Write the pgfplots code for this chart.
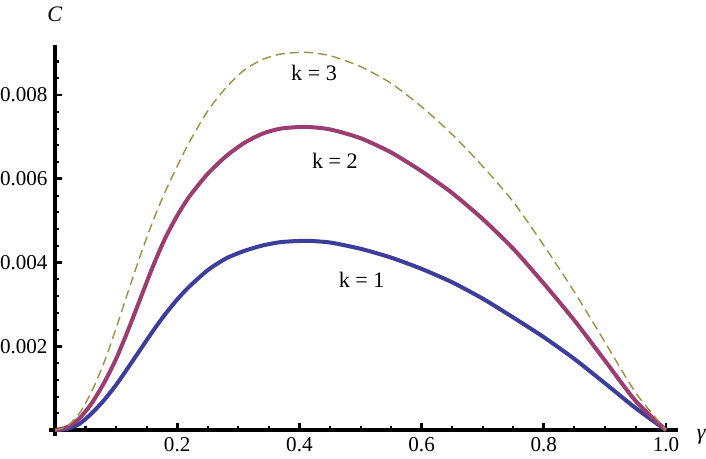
\documentclass[border=0pt]{standalone}
\usepackage{fontspec}
\setmainfont{Liberation Serif}
\usepackage{pgfplots}
\pgfplotsset{compat=1.18}
\definecolor{kone}{RGB}{61,61,155}
\definecolor{ktwo}{RGB}{155,61,112}
\definecolor{kthree}{RGB}{158,143,70}

\begin{document}
\begin{tikzpicture}
\begin{axis}[
    scale only axis, width=310pt, height=191.7pt,
    xmin=0, xmax=1.02, ymin=0, ymax=0.0092,
    axis lines=left,
    axis line style={line width=2pt, -, shorten <=-3pt},
    clip=false,
    tick align=inside,
    major tick length=3.5pt, minor tick length=2pt,
    major tick style={black, line width=1.4pt},
    minor tick style={black, line width=1pt},
    xtick={0.2,0.4,0.6,0.8,1.0},
    minor xtick={0.05,0.1,0.15,0.25,0.3,0.35,0.45,0.5,0.55,0.65,0.7,0.75,0.85,0.9,0.95},
    ytick={0.002,0.004,0.006,0.008},
    minor ytick={0.0004,0.0008,0.0012,0.0016,0.0024,0.0028,0.0032,0.0036,0.0044,0.0048,0.0052,0.0056,0.0064,0.0068,0.0072,0.0076,0.0084,0.0088},
    scaled y ticks=false,
    /pgf/number format/assume math mode=true,
    tick label style={font=\fontsize{10.5}{12}\selectfont},
    xticklabel style={/pgf/number format/.cd, fixed, fixed zerofill, precision=1},
    yticklabel style={inner xsep=0pt, xshift=-3.5pt, /pgf/number format/.cd, fixed, fixed zerofill, precision=3},
    xlabel={\textit{γ}}, ylabel={\textit{C}},
    every axis x label/.style={at={(rel axis cs:1,0)}, anchor=base west, inner sep=0pt, xshift=9pt, yshift=-4.5pt, font=\fontsize{11}{12}\selectfont},
    every axis y label/.style={at={(rel axis cs:0,1)}, anchor=south, yshift=8pt, font=\fontsize{11}{12}\selectfont},
]
% k = 1
\addplot[color=kone, line width=2pt, smooth, tension=0.4] coordinates {
(0,0) (0.02,0.00003) (0.04,0.00015) (0.06,0.00040) (0.08,0.00071) (0.10,0.00108)
(0.12,0.00150) (0.14,0.00193) (0.16,0.00236) (0.18,0.00276) (0.20,0.00312)
(0.22,0.00343) (0.25,0.00382) (0.28,0.00410) (0.31,0.00428) (0.34,0.00441)
(0.37,0.00449) (0.41,0.00452) (0.45,0.00448) (0.50,0.00433) (0.55,0.00412)
(0.60,0.00385) (0.65,0.00353) (0.70,0.00314) (0.75,0.00269) (0.80,0.00222)
(0.85,0.00170) (0.90,0.00112) (0.95,0.00053) (1.0,0)
};
% k = 2
\addplot[color=ktwo, line width=2pt, smooth, tension=0.4] coordinates {
(0,0) (0.02,0.00007) (0.04,0.00028) (0.06,0.00064) (0.08,0.00112) (0.10,0.00170)
(0.12,0.00240) (0.14,0.00315) (0.16,0.00390) (0.18,0.00457) (0.20,0.00512)
(0.22,0.00558) (0.25,0.00612) (0.28,0.00654) (0.31,0.00686) (0.34,0.00708)
(0.37,0.00720) (0.41,0.00724) (0.45,0.00718) (0.50,0.00697) (0.55,0.00663)
(0.60,0.00618) (0.65,0.00566) (0.70,0.00504) (0.75,0.00433) (0.80,0.00350)
(0.85,0.00262) (0.90,0.00166) (0.95,0.00070) (1.0,0)
};
% k = 3
\addplot[color=kthree, line width=0.7pt, dash pattern=on 4.5pt off 2.5pt, smooth, tension=0.4] coordinates {
(0,0) (0.02,0.00009) (0.04,0.00040) (0.06,0.00092) (0.08,0.00160) (0.10,0.00243)
(0.12,0.00332) (0.14,0.00418) (0.16,0.00498) (0.18,0.00568) (0.20,0.00630)
(0.22,0.00688) (0.25,0.00762) (0.28,0.00818) (0.31,0.00860) (0.34,0.00885)
(0.37,0.00898) (0.41,0.00902) (0.45,0.00894) (0.50,0.00868) (0.55,0.00828)
(0.60,0.00772) (0.65,0.00706) (0.70,0.00630) (0.75,0.00545) (0.80,0.00441)
(0.85,0.00330) (0.90,0.00210) (0.95,0.00090) (1.0,0)
};
\node[font=\fontsize{11}{12}\selectfont] at (axis cs:0.424,0.00852) {k = 3};
\node[font=\fontsize{11}{12}\selectfont] at (axis cs:0.458,0.00644) {k = 2};
\node[font=\fontsize{11}{12}\selectfont] at (axis cs:0.502,0.00360) {k = 1};
\end{axis}
\end{tikzpicture}
\end{document}
